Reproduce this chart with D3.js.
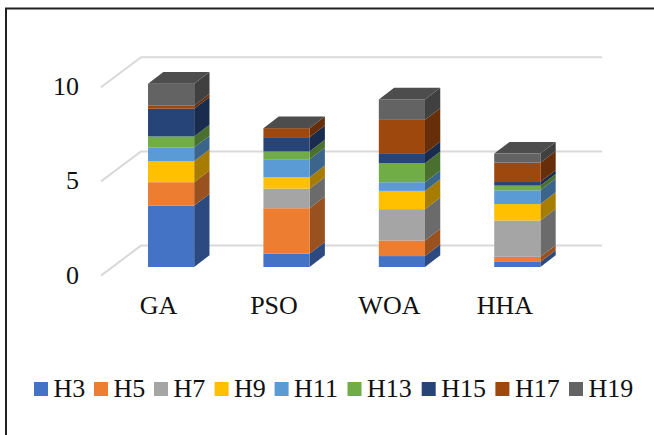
<!DOCTYPE html>
<html>
<head>
<meta charset="utf-8">
<script src="https://cdnjs.cloudflare.com/ajax/libs/d3/7.8.5/d3.min.js"></script>
<style>
html,body{margin:0;padding:0;background:#fff}
svg{display:block}
text{font-family:"Liberation Serif","Times New Roman",serif;fill:#111}
</style>
</head>
<body>
<svg id="chart" width="654" height="435"></svg>
<script>
const categories = ["GA", "PSO", "WOA", "HHA"];
const harmonics = ["H3", "H5", "H7", "H9", "H11", "H13", "H15", "H17", "H19"];
const colors = ["#4472c4", "#ed7d31", "#a5a5a5", "#ffc000", "#5b9bd5", "#70ad47", "#264478", "#9e480e", "#636363"];
const yTicks = [0, 5, 10];

const H3  = [3.26, 0.71, 0.58, 0.27];
const H5  = [1.24, 2.41, 0.83, 0.27];
const H7  = [0.00, 1.04, 1.66, 1.93];
const H9  = [1.12, 0.60, 0.97, 0.87];
const H11 = [0.73, 0.96, 0.46, 0.73];
const H13 = [0.58, 0.41, 1.01, 0.25];
const H15 = [1.47, 0.76, 0.53, 0.19];
const H17 = [0.16, 0.48, 1.77, 1.03];
const H19 = [1.17, 0.00, 1.08, 0.48];
const seriesValues = [H3, H5, H7, H9, H11, H13, H15, H17, H19];

const svg = d3.select("#chart");

// Chart frame
svg.append("path")
  .attr("d", "M6,435V8.5H654")
  .attr("fill", "none")
  .attr("stroke", "#222")
  .attr("stroke-width", 2);

// Rows of the stack, one record per category
const rows = categories.map((name, i) => {
  const row = {name};
  harmonics.forEach((h, s) => { row[h] = seriesValues[s][i]; });
  return row;
});
const stacked = d3.stack().keys(harmonics)(rows);

const x = d3.scaleBand().domain(categories).range([113.4, 575]).paddingInner(0.6).paddingOuter(0.3);
const y = d3.scaleLinear().domain([0, 10]).range([267, 78.6]);

// Oblique projection offsets: bar depth and wall depth
const barDepth = {dx: 15.3, dy: -11.7};
const wall = {dx: 40, dy: -30, left: 101, right: 602, base: 275.6};
const wallY = d3.scaleLinear().domain([0, 10]).range([wall.base, wall.base - 188.4]);

const grid = svg.append("g").attr("fill", "none").attr("stroke", "#d9d9d9").attr("stroke-width", 2);
yTicks.forEach(t => {
  const y0 = wallY(t);
  grid.append("path")
    .attr("d", `M${wall.left},${y0}L${wall.left + wall.dx},${y0 + wall.dy}H${wall.right}`);
});

// Value labels on the front edge of the floor
svg.append("g").selectAll("text").data(yTicks).join("text")
  .attr("x", 79)
  .attr("y", d => wallY(d) + 8)
  .attr("text-anchor", "end")
  .attr("font-size", 26)
  .text(d => d);

const shade = (c, k) => {
  const o = d3.rgb(c);
  return d3.rgb(o.r * k, o.g * k, o.b * k).formatHex();
};

// Stacked columns: each segment has a front and a right face; the last series caps the column
const bars = svg.append("g");
categories.forEach((cat, i) => {
  const g = bars.append("g");
  const x0 = x(cat), x1 = x0 + x.bandwidth();
  stacked.forEach((layer, s) => {
    const [v0, v1] = layer[i];
    const yb = y(v0), yt = y(v1);
    g.append("path")
      .attr("d", `M${x1},${yb}L${x1 + barDepth.dx},${yb + barDepth.dy}V${yt + barDepth.dy}L${x1},${yt}Z`)
      .attr("fill", shade(colors[s], 0.65));
    g.append("rect")
      .attr("x", x0).attr("y", yt)
      .attr("width", x.bandwidth()).attr("height", yb - yt)
      .attr("fill", colors[s]);
  });
  const top = y(stacked[stacked.length - 1][i][1]);
  g.append("path")
    .attr("d", `M${x0},${top}L${x0 + barDepth.dx},${top + barDepth.dy}H${x1 + barDepth.dx}L${x1},${top}Z`)
    .attr("fill", shade(colors[colors.length - 1], 0.78));
});

// Category labels
svg.append("g").selectAll("text").data(categories).join("text")
  .attr("x", d => x(d) + x.bandwidth() / 2 - 12.5)
  .attr("y", 314)
  .attr("text-anchor", "middle")
  .attr("font-size", 26)
  .text(d => d);

// Legend
const legendStart = [34, 94, 154, 214.6, 274.6, 347.5, 421.7, 495.4, 569];
const legend = svg.append("g").selectAll("g").data(harmonics).join("g");
legend.append("rect")
  .attr("x", (d, i) => legendStart[i])
  .attr("y", 382)
  .attr("width", 14).attr("height", 14)
  .attr("fill", (d, i) => colors[i]);
legend.append("text")
  .attr("x", (d, i) => legendStart[i] + 19.5)
  .attr("y", 397)
  .attr("font-size", 26)
  .text(d => d);
</script>
</body>
</html>
